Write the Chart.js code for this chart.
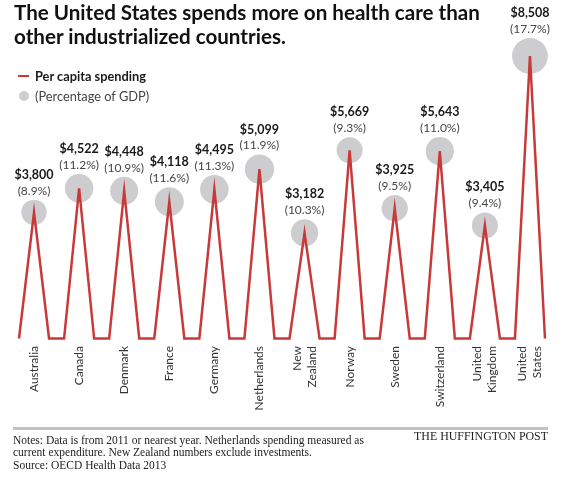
<!DOCTYPE html>
<html>
<head>
<meta charset="utf-8">
<script src="https://cdn.jsdelivr.net/npm/chart.js@4.4.1/dist/chart.umd.min.js"></script>
<style>
  html, body { margin:0; padding:0; background:#fff; }
  #wrap { position:relative; width:569px; height:477px; overflow:hidden; font-family: Lato, "Open Sans", sans-serif; }
  #c { position:absolute; left:0; top:0; }
  .abs { position:absolute; white-space:nowrap; }
  #title { left:14px; top:0px; font-weight:700; font-size:20.6px; line-height:24px; color:#111; }
  .lg { font-size:12.8px; line-height:16px; }
  #sep { position:absolute; left:13px; top:427px; width:535px; height:2.5px; background:#c3c3c3; }
  #notes { left:13px; top:433.5px; font-family:"Liberation Serif", "DejaVu Serif", serif; font-size:11.5px; line-height:12.5px; color:#222; }
  #brand { right:21px; top:428.5px; font-family:"Liberation Serif", "DejaVu Serif", serif; font-size:11.9px; color:#222; }
</style>
</head>
<body>
<div id="wrap">
  <canvas id="c" width="569" height="477"></canvas>
  <div id="title" class="abs">The United States spends more on health care than<br>other industrialized countries.</div>
  <div class="abs" style="left:18px;top:74.5px;width:11px;height:2.5px;background:#c83a3a;"></div>
  <div class="abs lg" style="left:35px;top:67.5px;font-weight:700;color:#1a1a1a;">Per capita spending</div>
  <div class="abs" style="left:18.5px;top:90.5px;width:10px;height:10px;border-radius:50%;background:#cdcdcf;"></div>
  <div class="abs lg" style="left:35px;top:87.5px;color:#444;">(Percentage of GDP)</div>
  <div id="sep"></div>
  <div id="notes" class="abs">Notes: Data is from 2011 or nearest year. Netherlands spending measured as<br>current expenditure. New Zealand numbers exclude investments.<br>Source: OECD Health Data 2013</div>
  <div id="brand" class="abs">THE HUFFINGTON POST</div>
</div>
<script>
const countries = ["Australia","Canada","Denmark","France","Germany","Netherlands",["New","Zealand"],"Norway","Sweden","Switzerland",["United","Kingdom"],["United","States"]];
const spending = [3800,4522,4448,4118,4495,5099,3182,5669,3925,5643,3405,8508];
const gdpShare = [8.9,11.2,10.9,11.6,11.3,11.9,10.3,9.3,9.5,11.0,9.4,17.7];
const spendingLabels = ["$3,800","$4,522","$4,448","$4,118","$4,495","$5,099","$3,182","$5,669","$3,925","$5,643","$3,405","$8,508"];
const gdpLabels = ["(8.9%)","(11.2%)","(10.9%)","(11.6%)","(11.3%)","(11.9%)","(10.3%)","(9.3%)","(9.5%)","(11.0%)","(9.4%)","(17.7%)"];

// build zig-zag series: each country rises from 0 to its value and back to 0
const labels = [], lineData = [], circleData = [], circleR = [];
countries.forEach((c, i) => {
  labels.push("", c, "");
  lineData.push(0, spending[i], 0);
  circleData.push(null, spending[i], null);
  const r = 12.7 * Math.sqrt(gdpShare[i] / 8.9);
  circleR.push(0, r, 0);
});

const annot = {
  id: 'annot',
  afterDatasetsDraw(chart) {
    const ctx = chart.ctx;
    const meta = chart.getDatasetMeta(0);
    ctx.save();
    countries.forEach((c, i) => {
      const pt = meta.data[3*i + 1];
      const x = pt.x, y = pt.y;
      const top = y - circleR[3*i + 1];
      ctx.textAlign = 'center';
      ctx.textBaseline = 'middle';
      ctx.fillStyle = '#444';
      ctx.font = '12px Lato, sans-serif';
      ctx.fillText(gdpLabels[i], x, top - 9);
      ctx.fillStyle = '#1a1a1a';
      ctx.font = 'bold 12.5px Lato, sans-serif';
      ctx.fillText(spendingLabels[i], x, top - 25);
      // axis label, rotated
      const lines = Array.isArray(c) ? c : [c];
      const lh = 15;
      ctx.save();
      ctx.translate(x, 346);
      ctx.rotate(-Math.PI / 2);
      ctx.textAlign = 'right';
      ctx.textBaseline = 'middle';
      ctx.fillStyle = '#333';
      ctx.font = '12px Lato, sans-serif';
      lines.forEach((ln, k) => {
        const off = (k - (lines.length - 1) / 2) * lh;
        ctx.fillText(ln, 0, off);
      });
      ctx.restore();
    });
    ctx.restore();
  }
};

new Chart(document.getElementById('c'), {
  type: 'line',
  data: {
    labels: labels,
    datasets: [
      {
        data: lineData,
        borderColor: '#c83a3a',
        borderWidth: 2.5,
        pointRadius: 0,
        tension: 0,
        fill: false,
        order: 0,
        clip: false
      },
      {
        data: circleData,
        showLine: false,
        pointRadius: (ctx) => circleR[ctx.dataIndex],
        pointBackgroundColor: '#cdcdcf',
        pointBorderWidth: 0,
        pointBorderColor: 'rgba(0,0,0,0)',
        order: 1,
        clip: false
      }
    ]
  },
  options: {
    responsive: false,
    animation: false,
    devicePixelRatio: 1,
    events: [],
    layout: { padding: { left: 19, right: 24, top: 39.7, bottom: 138.5 } },
    scales: {
      x: { display: false },
      y: { display: false, min: 0, max: 9000 }
    },
    plugins: { legend: { display: false }, tooltip: { enabled: false } }
  },
  plugins: [annot]
});
</script>
</body>
</html>
